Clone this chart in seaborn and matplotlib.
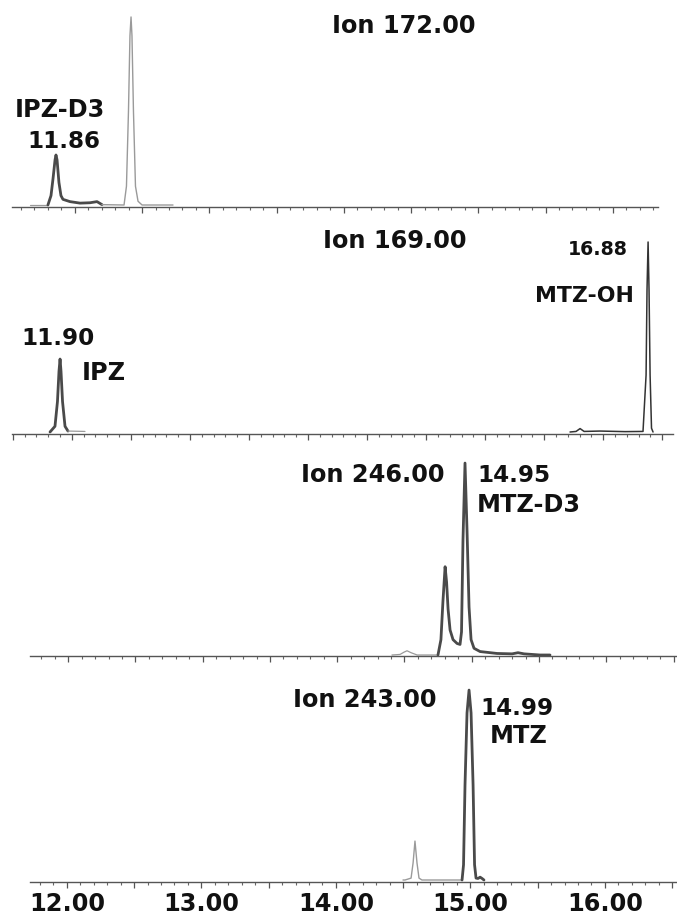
import matplotlib
matplotlib.use("Agg")
import matplotlib.pyplot as plt
from matplotlib.ticker import MultipleLocator, FuncFormatter
import seaborn as sns
import pandas as pd

# ---- retention time (min) / relative abundance traces ----
# Ion 172.00
ion172_lead_t = [11.67, 11.80]
ion172_lead_v = [0.0, 0.0]
ion172_ipzd3_t = [11.80, 11.823, 11.838, 11.853, 11.86, 11.868, 11.882, 11.897,
                  11.912, 11.964, 12.039, 12.113, 12.165, 12.202]
ion172_ipzd3_v = [0.0, 5, 14, 24, 26.6, 24, 12, 5, 3, 1.8, 1.0, 1.2, 1.8, 0.2]
ion172_second_t = [12.202, 12.366, 12.384, 12.399, 12.410, 12.418, 12.425,
                   12.436, 12.451, 12.470, 12.500, 12.730]
ion172_second_v = [0.2, 0.0, 10, 50, 90, 100, 90, 50, 10, 2, 0.0, 0.0]

# Ion 169.00
ion169_ipz_t = [11.815, 11.857, 11.878, 11.891, 11.90, 11.908, 11.921, 11.942, 11.967]
ion169_ipz_v = [0.0, 3, 16, 32, 38.4, 32, 16, 3, 0.5]
ion169_tail_t = [11.967, 12.111]
ion169_tail_v = [0.5, 0.3]
ion169_mtzoh_t = [16.219, 16.270, 16.304, 16.338, 16.473, 16.685, 16.837, 16.863,
                  16.871, 16.88, 16.888, 16.897, 16.909, 16.922]
ion169_mtzoh_v = [0.0, 0.3, 1.8, 0.3, 0.5, 0.2, 0.3, 30, 75, 100, 75, 30, 2, 0.0]

# Ion 246.00
ion246_lead_t = [14.407, 14.467, 14.497, 14.519, 14.549, 14.594, 14.749]
ion246_lead_v = [0.0, 0.3, 1.5, 2.2, 1.2, 0.0, 0.0]
ion246_main_t = [14.749, 14.771, 14.786, 14.802, 14.813, 14.824, 14.839, 14.861,
                 14.891, 14.913, 14.924, 14.935, 14.95, 14.965, 14.980, 14.995,
                 15.017, 15.062, 15.188, 15.300, 15.344, 15.389, 15.508, 15.582]
ion246_main_v = [0.0, 8, 28, 46, 38, 24, 13, 8, 6, 5.5, 12, 60, 100, 65, 25, 8,
                 3.5, 1.8, 0.8, 0.6, 1.2, 0.6, 0.0, 0.0]

# Ion 243.00
ion243_small_t = [14.499, 14.514, 14.559, 14.574, 14.588, 14.603, 14.618, 14.640, 14.938]
ion243_small_v = [0.0, 0.0, 1, 9, 20.5, 9, 1, 0.0, 0.0]
ion243_mtz_t = [14.938, 14.949, 14.960, 14.975, 14.99, 15.005, 15.020, 15.031,
                15.042, 15.057, 15.072, 15.087, 15.101]
ion243_mtz_v = [0.0, 8, 50, 88, 100, 88, 50, 8, 1, 0.8, 1.5, 0.8, 0.0]

# per-panel time windows and abundance ranges
panel_xlim = [(11.533, 16.336), (11.493, 17.091), (11.716, 16.526), (11.726, 16.536)]
panel_ylim = [(-1.06, 103.7), (-1.05, 101.05), (-0.52, 104.2), (-1.05, 105.3)]

bottom_tick_labels = [12.00, 13.00, 14.00, 15.00, 16.00]

# ---- figure ----
sns.set_theme(style="white")
plt.rcParams["font.family"] = ["DejaVu Sans"]

W, H = 677, 917
fig = plt.figure(figsize=(W / 100, H / 100), dpi=100)
fig.patch.set_facecolor("white")

# axes placement in pixels: left, right, baseline (spine), top
boxes = [(12, 658, 207, 10), (12, 673, 434, 240), (30, 677, 656, 455), (30, 677, 882, 680)]
axes = []
for (l, r, s, t) in boxes:
    ax = fig.add_axes([l / W, 1 - s / H, (r - l) / W, (s - t) / H])
    axes.append(ax)

DARK = "#4a4a4a"
LIGHT = "#9a9a9a"


def trace(ax, t, v, color, lw):
    df = pd.DataFrame({"time": t, "abundance": v})
    sns.lineplot(data=df, x="time", y="abundance", ax=ax, color=color,
                 linewidth=lw, estimator=None, sort=False)


trace(axes[0], ion172_lead_t, ion172_lead_v, LIGHT, 0.9)
trace(axes[0], ion172_ipzd3_t, ion172_ipzd3_v, DARK, 2.0)
trace(axes[0], ion172_second_t, ion172_second_v, LIGHT, 1.0)

trace(axes[1], ion169_ipz_t, ion169_ipz_v, DARK, 2.0)
trace(axes[1], ion169_tail_t, ion169_tail_v, LIGHT, 0.9)
trace(axes[1], ion169_mtzoh_t, ion169_mtzoh_v, "#333333", 1.1)

trace(axes[2], ion246_lead_t, ion246_lead_v, LIGHT, 0.9)
trace(axes[2], ion246_main_t, ion246_main_v, DARK, 2.0)

trace(axes[3], ion243_small_t, ion243_small_v, LIGHT, 1.0)
trace(axes[3], ion243_mtz_t, ion243_mtz_v, DARK, 2.0)

for i, ax in enumerate(axes):
    ax.set_xlim(*panel_xlim[i])
    ax.set_ylim(*panel_ylim[i])
    ax.set_facecolor("none")
    for side in ("left", "right", "top"):
        ax.spines[side].set_visible(False)
    ax.spines["bottom"].set_color("#555555")
    ax.spines["bottom"].set_linewidth(1.0)
    ax.set_xlabel("")
    ax.set_ylabel("")
    ax.set_yticks([])
    ax.xaxis.set_major_locator(MultipleLocator(0.5))
    ax.xaxis.set_minor_locator(MultipleLocator(0.1))
    ax.tick_params(axis="x", which="major", direction="out", length=4.3,
                   width=0.9, color="#555555", pad=3)
    ax.tick_params(axis="x", which="minor", direction="out", length=2.0,
                   width=0.8, color="#666666")
    ax.tick_params(axis="x", which="both", bottom=True)
    if i < 3:
        ax.set_xticklabels([])
        ax.tick_params(axis="x", labelbottom=False)

axes[3].xaxis.set_major_formatter(
    FuncFormatter(lambda x, pos: f"{x:.2f}"
                  if any(abs(x - b) < 1e-6 for b in bottom_tick_labels) else ""))
for lab in axes[3].get_xticklabels():
    lab.set_fontsize(17.3)
    lab.set_fontweight("bold")
    lab.set_color("#111111")
axes[3].tick_params(axis="x", labelsize=17.3)
for lab in axes[3].xaxis.get_majorticklabels():
    lab.set_fontweight("bold")


def label(px, py, text, size_px=24):
    fig.text(px / W, 1 - py / H, text, fontsize=size_px * 0.72, fontweight="bold",
             color="#111111", ha="left", va="baseline")


label(332, 33, "Ion 172.00")
label(15, 117, "IPZ-D3")
label(27, 148, "11.86", 23)

label(323, 248, "Ion 169.00")
label(568, 255, "16.88", 19)
label(535, 302, "MTZ-OH", 22)
label(21, 345, "11.90", 23)
label(82, 380, "IPZ")

label(301, 482, "Ion 246.00")
label(477, 482, "14.95", 23)
label(477, 512, "MTZ-D3")

label(293, 707, "Ion 243.00")
label(480, 715, "14.99", 23)
label(490, 743, "MTZ")

fig.savefig("out.png", dpi=100, facecolor="white")
